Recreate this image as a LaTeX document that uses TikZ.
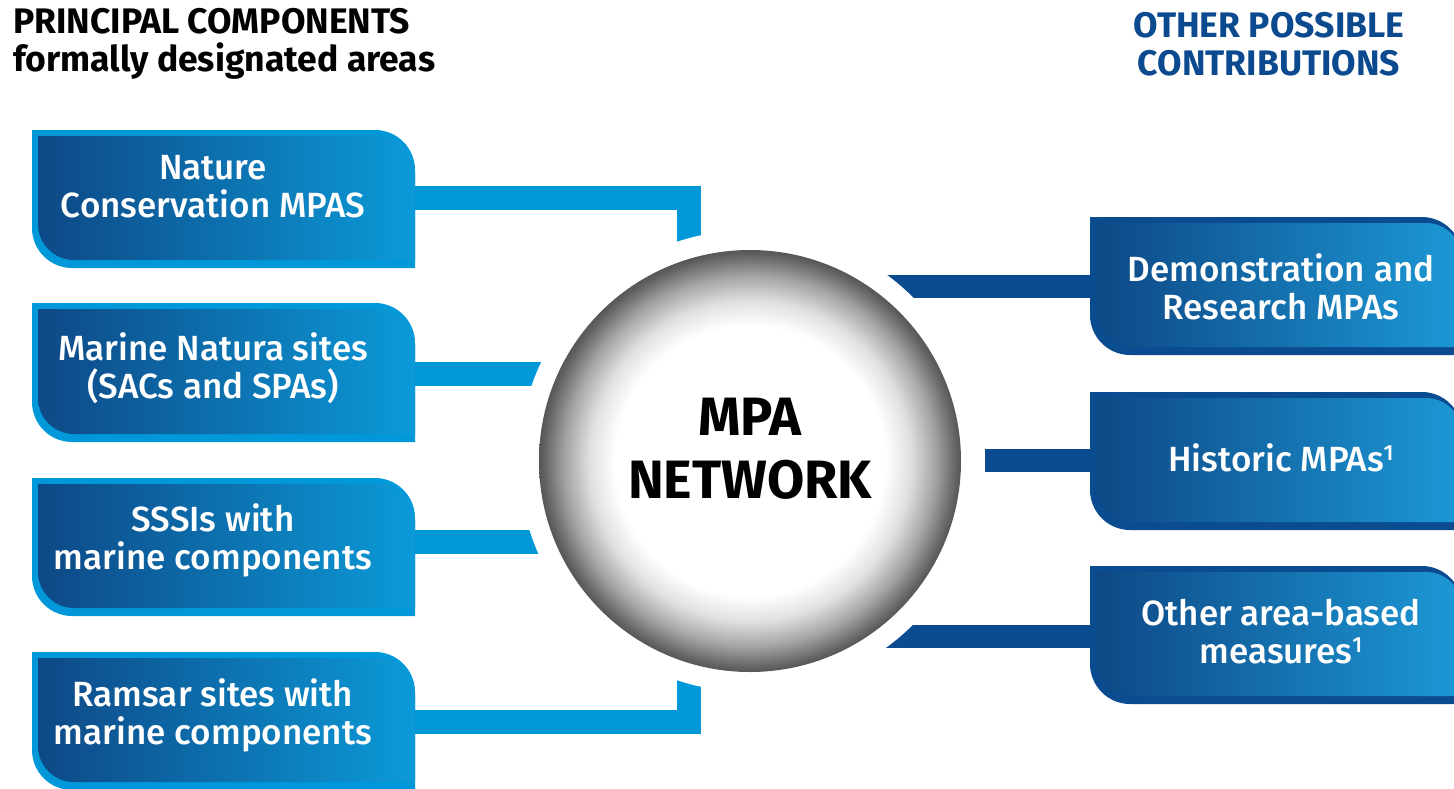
\documentclass[tikz,border=0pt]{standalone}
\usepackage{fontspec}
\setmainfont{Fira Sans}
\newfontfamily\medfont{Fira Sans Medium}
\definecolor{lblue}{HTML}{0098D8}
\definecolor{dblue}{HTML}{0B4C91}
\definecolor{hblue}{HTML}{0B4A8F}
\definecolor{gleft}{HTML}{0E4886}
\definecolor{gmid}{HTML}{337BB8}
\definecolor{gright}{HTML}{0C9AD8}
\definecolor{rright}{HTML}{1C99D6}
\pgfdeclareradialshading{ballshade}{\pgfpoint{0bp}{0bp}}{color(0bp)=(white); color(16bp)=(white); color(19bp)=(black!12); color(22bp)=(black!36); color(24.5bp)=(black!62); color(25bp)=(black!66); color(50bp)=(black!66)}
\newcommand\bshape[5]{(#1,#2) -- ({#3-#5},#2) .. controls ({#3-0.45*#5},#2) and (#3,{#2+0.45*#5}) .. (#3,{#2+#5}) -- (#3,#4) -- ({#1+#5},#4) .. controls ({#1+0.45*#5},#4) and (#1,{#4-0.45*#5}) .. (#1,{#4-#5}) -- cycle}
\newcommand\supone{\raisebox{0.32em}{\fontsize{22}{22}\selectfont 1}}
\tikzset{
  lconn/.style={draw=lblue, line width=24pt, line join=miter},
  rconn/.style={draw=dblue, line width=23pt, line join=miter},
  lbox/.style={left color=gleft, middle color=gmid, right color=gright},
  rbox/.style={left color=gleft, middle color=gmid, right color=rright},
  boxtext/.style={text=white, align=center, font=\medfont\fontsize{35}{38}\selectfont, inner sep=0pt},
  headtext/.style={font=\fontsize{35.5}{38}\selectfont\bfseries, inner sep=0pt}
}
\begin{document}
\begin{tikzpicture}[x=1pt,y=-1pt]
\useasboundingbox (0,0) rectangle (1454,788);
\clip (0,0) rectangle (1454,788);
% headers
\node[headtext, align=left, anchor=west] (hleft) at (13,44) {PRINCIPAL COMPONENTS\\formally designated areas};
\node[headtext, align=center, text=hblue] (hright) at (1269,44) {OTHER POSSIBLE\\CONTRIBUTIONS};
% connector coordinates
\coordinate (c1a) at (400,198); \coordinate (c1b) at (689,198); \coordinate (c1c) at (689,260);
\coordinate (c2a) at (400,374); \coordinate (c2b) at (570,374);
\coordinate (c3a) at (400,542); \coordinate (c3b) at (570,542);
\coordinate (c4a) at (400,722); \coordinate (c4b) at (689,722); \coordinate (c4c) at (689,660);
\coordinate (d1a) at (1100,286); \coordinate (d1b) at (860,286);
\coordinate (d2a) at (1100,460); \coordinate (d2b) at (985,460);
\coordinate (d3a) at (1100,636); \coordinate (d3b) at (860,636);
% connectors
\draw[lconn] (c1a) -- (c1b) -- (c1c);
\draw[lconn] (c2a) -- (c2b);
\draw[lconn] (c3a) -- (c3b);
\draw[lconn] (c4a) -- (c4b) -- (c4c);
\draw[rconn] (d1a) -- (d1b);
\draw[rconn] (d2a) -- (d2b);
\draw[rconn] (d3a) -- (d3b);
% white gap and circle
\fill[white] (750,461) circle (231);
\node[circle, minimum size=422pt, inner sep=0pt, shading=ballshade] (net) at (750,461) {};
\node[font=\fontsize{54}{63}\selectfont\bfseries, align=center, inner sep=0pt] (nettext) at (750,449) {MPA\\NETWORK};
% left boxes
\foreach \t/\b in {130/268, 303/442, 478/616, 652/790}{
  \fill[lblue] \bshape{32}{\t}{415}{\b}{40};
  \shade[lbox] \bshape{38}{\t+6}{415}{\b-8}{36};
}
% right boxes
\foreach \t/\b in {217/355, 392/530, 566/704}{
  \fill[dblue] \bshape{1090}{\t}{1462}{\b}{40};
  \shade[rbox] \bshape{1096}{\t+6}{1462}{\b-8}{36};
}
% texts
\node[boxtext] (l1) at (213,187) {Nature\\Conservation MPAS};
\node[boxtext] (l2) at (213,368) {Marine Natura sites\\(SACs and SPAs)};
\node[boxtext] (l3) at (213,540) {SSSIs with\\marine components};
\node[boxtext] (l4) at (213,715) {Ramsar sites with\\marine components};
\node[boxtext] (r1) at (1281,287) {Demonstration and\\Research MPAs};
\node[boxtext] (r2) at (1281,458) {Historic MPAs\supone};
\node[boxtext] (r3) at (1281,632) {Other area-based\\measures\supone};
\end{tikzpicture}
\end{document}
